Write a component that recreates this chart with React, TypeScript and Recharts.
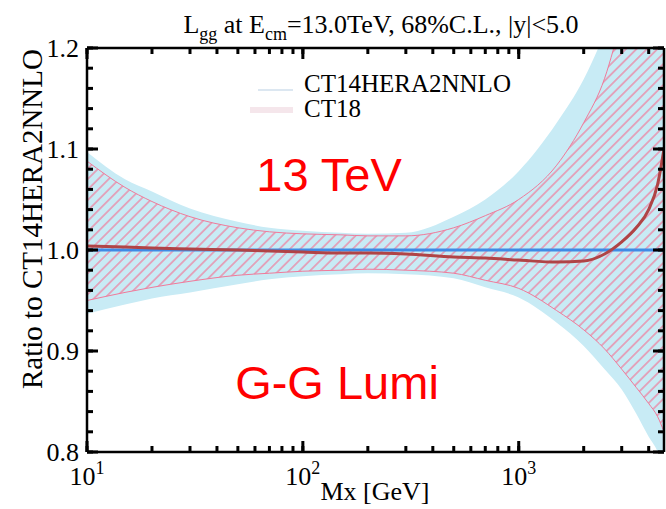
import * as React from 'react';
import { ComposedChart, Area, Line, XAxis, YAxis } from 'recharts';

// let the chart use the whole 666x509 window
document.body.style.margin = '0';

// invariant mass points [GeV] on the log axis
const MASS = [10, 15, 20, 30, 50, 70, 100, 150, 200, 300, 500, 700, 1000, 1500, 2000, 2500, 3000, 3500, 4000, 4400, 4710];

// CT14HERA2NNLO (reference, so central = 1) and its 68% C.L. band
const CT14_CENTRAL = [1, 1, 1, 1, 1, 1, 1, 1, 1, 1, 1, 1, 1, 1, 1, 1, 1, 1, 1, 1, 1];
const CT14_HI = [1.097, 1.07, 1.058, 1.041, 1.028, 1.022, 1.019, 1.017, 1.016, 1.017, 1.033, 1.05, 1.078, 1.126, 1.169, 1.215, 1.26, 1.32, 1.38, 1.42, 1.45];
const CT14_LO = [0.937, 0.946, 0.952, 0.958, 0.966, 0.971, 0.974, 0.976, 0.977, 0.976, 0.972, 0.963, 0.953, 0.928, 0.905, 0.882, 0.862, 0.838, 0.815, 0.8, 0.78];

// CT18 central ratio and band
const CT18_CENTRAL = [1.004, 1.003, 1.002, 1.001, 1.0, 0.999, 0.998, 0.997, 0.997, 0.996, 0.993, 0.992, 0.99, 0.988, 0.989, 0.996, 1.008, 1.022, 1.04, 1.065, 1.1];
const CT18_HI = [1.088, 1.062, 1.048, 1.033, 1.022, 1.018, 1.016, 1.015, 1.014, 1.014, 1.022, 1.034, 1.05, 1.084, 1.126, 1.17, 1.23, 1.29, 1.35, 1.39, 1.42];
const CT18_LO = [0.95, 0.958, 0.963, 0.969, 0.975, 0.977, 0.979, 0.98, 0.981, 0.98, 0.977, 0.97, 0.962, 0.94, 0.921, 0.902, 0.882, 0.864, 0.848, 0.835, 0.82];

const X_TICKS = [10, 20, 30, 40, 50, 60, 70, 80, 90, 100, 200, 300, 400, 500, 600, 700, 800, 900, 1000, 2000, 3000, 4000];
const X_MAJOR = [10, 100, 1000];
const X_EXP: Record<number, string> = { 10: '1', 100: '2', 1000: '3' };
const Y_TICKS = [0.8, 0.82, 0.84, 0.86, 0.88, 0.9, 0.92, 0.94, 0.96, 0.98, 1.0, 1.02, 1.04, 1.06, 1.08, 1.1, 1.12, 1.14, 1.16, 1.18, 1.2];

const W = 666;
const H = 509;
const PL = 87;
const PR = 664;
const PT = 48;
const PB = 452;

const SERIF = '"Liberation Serif", "Times New Roman", serif';
const SANS = '"Liberation Sans", Arial, sans-serif';

const rows = MASS.map((m, i) => ({
  m,
  ct14: CT14_CENTRAL[i],
  ct14Band: [CT14_LO[i], CT14_HI[i]],
  ct18: CT18_CENTRAL[i],
  ct18Band: [CT18_LO[i], CT18_HI[i]],
}));

const isMajorY = (v: number) => Math.abs(v * 10 - Math.round(v * 10)) < 1e-6;
const tickStroke = { stroke: '#000', strokeWidth: 3 };

// native tick lines give the short inward ticks; majors get a longer mark
const bottomTick = (props: any) => {
  const { x, payload } = props;
  const v = payload.value;
  const major = X_MAJOR.includes(v);
  return (
    <g key={`b-${v}`}>
      {major && <rect x={x - 1.5} y={PB - 11} width={3} height={11} fill="#000" />}
      {major && (
        <text x={x} y={PB + 33} textAnchor="middle" fontFamily={SERIF} fontSize={26} fill="#000">
          10<tspan dy={-11} fontSize={18}>{X_EXP[v]}</tspan>
        </text>
      )}
    </g>
  );
};

const topTick = (props: any) => {
  const { x, payload } = props;
  const major = X_MAJOR.includes(payload.value);
  return <g key={`t-${payload.value}`}>{major && <rect x={x - 1.5} y={PT} width={3} height={11} fill="#000" />}</g>;
};

const leftTick = (props: any) => {
  const { y, payload } = props;
  const v = payload.value;
  const major = isMajorY(v);
  return (
    <g key={`l-${v}`}>
      {major && <rect x={PL} y={y - 1.5} width={11} height={3} fill="#000" />}
      {major && (
        <text x={PL - 8} y={y} dy="0.36em" textAnchor="end" fontFamily={SERIF} fontSize={26} fill="#000">
          {v.toFixed(1)}
        </text>
      )}
    </g>
  );
};

const rightTick = (props: any) => {
  const { y, payload } = props;
  const major = isMajorY(payload.value);
  return <g key={`r-${payload.value}`}>{major && <rect x={PR - 11} y={y - 1.5} width={11} height={3} fill="#000" />}</g>;
};

export default function App() {
  return (
    <div style={{ position: 'relative', width: W, height: H, background: '#fff' }}>
      <ComposedChart width={W} height={H} data={rows} margin={{ top: PT - 2, right: 0, bottom: 0, left: 0 }}>
        <defs>
          <pattern id="ct18hatch" patternUnits="userSpaceOnUse" width="7.4" height="7.4" patternTransform="rotate(45)">
            <line x1="3.7" y1="0" x2="3.7" y2="7.4" stroke="#f07a9a" strokeWidth="1.2" />
          </pattern>
        </defs>
        <XAxis
          dataKey="m"
          type="number"
          scale="log"
          domain={[10, 4710]}
          allowDataOverflow
          ticks={X_TICKS}
          interval={0}
          height={H - PB}
          tickSize={-6}
          tickLine={tickStroke}
          tick={bottomTick}
          axisLine={{ stroke: '#000', strokeWidth: 2.5 }}
        />
        <XAxis
          xAxisId="top"
          orientation="top"
          dataKey="m"
          type="number"
          scale="log"
          domain={[10, 4710]}
          allowDataOverflow
          ticks={X_TICKS}
          interval={0}
          height={2}
          tickSize={-6}
          tickLine={tickStroke}
          tick={topTick}
          axisLine={{ stroke: '#000', strokeWidth: 2.5 }}
        />
        <YAxis
          type="number"
          domain={[0.8, 1.2]}
          allowDataOverflow
          ticks={Y_TICKS}
          interval={0}
          width={PL}
          tickSize={-6}
          tickLine={tickStroke}
          tick={leftTick}
          axisLine={{ stroke: '#000', strokeWidth: 2.5 }}
        />
        <YAxis
          yAxisId="right"
          orientation="right"
          type="number"
          domain={[0.8, 1.2]}
          allowDataOverflow
          ticks={Y_TICKS}
          interval={0}
          width={W - PR}
          tickSize={-6}
          tickLine={tickStroke}
          tick={rightTick}
          axisLine={{ stroke: '#000', strokeWidth: 2.5 }}
        />
        <Area
          dataKey="ct14Band"
          type="monotone"
          fill="#c8ebf5"
          fillOpacity={1}
          stroke="none"
          isAnimationActive={false}
        />
        <Area
          dataKey="ct18Band"
          type="monotone"
          fill="url(#ct18hatch)"
          fillOpacity={1}
          stroke="#f07a9a"
          strokeWidth={1}
          isAnimationActive={false}
        />
        <Line dataKey="ct14" type="monotone" stroke="#3f8be6" strokeWidth={3} dot={false} isAnimationActive={false} />
        <Line dataKey="ct18" type="monotone" stroke="#b04446" strokeWidth={3} dot={false} isAnimationActive={false} />
      </ComposedChart>
      <svg width={W} height={H} style={{ position: 'absolute', left: 0, top: 0, pointerEvents: 'none' }}>
        <text x={381} y={33} textAnchor="middle" fontFamily={SERIF} fontSize={26} fill="#000" style={{ whiteSpace: 'pre' }}>
          L<tspan dy={7} fontSize={18}>gg</tspan>
          <tspan dy={-7}> at E</tspan>
          <tspan dy={7} fontSize={18}>cm</tspan>
          <tspan dy={-7}>=13.0TeV, 68%C.L., |y|&lt;5.0</tspan>
        </text>
        <text
          transform="translate(42, 219) rotate(-90)"
          textAnchor="middle"
          fontFamily={SERIF}
          fontSize={29}
          fill="#000"
        >
          Ratio to CT14HERA2NNLO
        </text>
        <text x={375} y={500} textAnchor="middle" fontFamily={SERIF} fontSize={26} fill="#000">
          Mx [GeV]
        </text>
        <line x1={258} x2={293} y1={90} y2={90} stroke="#dce7f1" strokeWidth={2} />
        <line x1={250} x2={293} y1={110} y2={110} stroke="#f5e6eb" strokeWidth={6} />
        <text x={304} y={92} fontFamily={SERIF} fontSize={25} fill="#000">CT14HERA2NNLO</text>
        <text x={304} y={117} fontFamily={SERIF} fontSize={25} fill="#000">CT18</text>
        <text x={329} y={191} textAnchor="middle" fontFamily={SANS} fontSize={47} fill="#ff0000">13 TeV</text>
        <text x={337} y={399} textAnchor="middle" fontFamily={SANS} fontSize={47} fill="#ff0000">G-G Lumi</text>
      </svg>
    </div>
  );
}
